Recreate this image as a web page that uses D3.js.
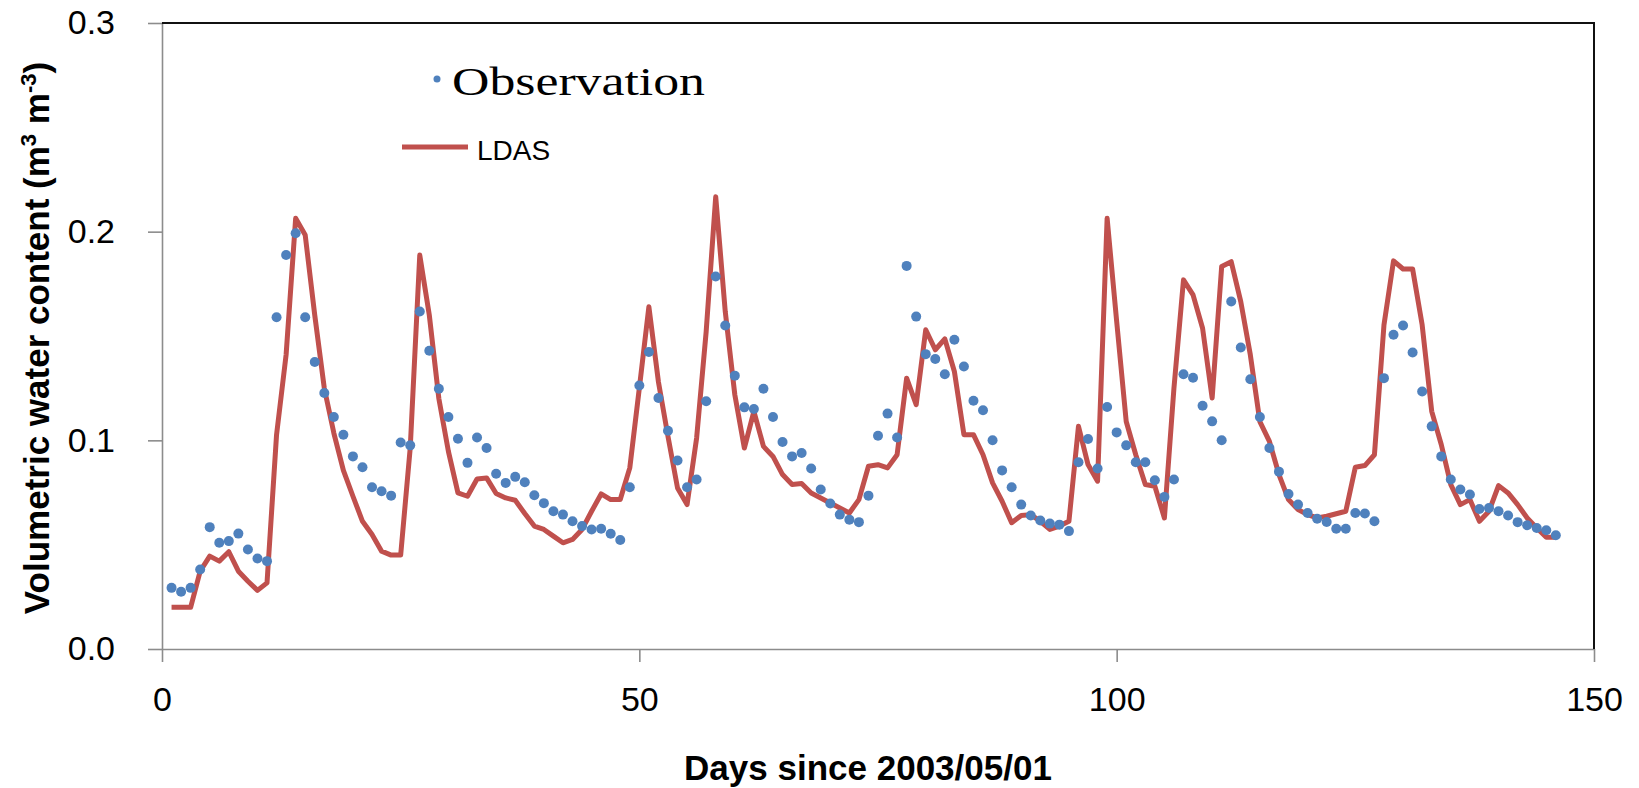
<!DOCTYPE html>
<html>
<head>
<meta charset="utf-8">
<script src="https://cdn.jsdelivr.net/npm/d3@7"></script>
<style>
body{margin:0;background:#fff;}
</style>
</head>
<body>
<div id="Canvas"></div>
<script>
//資料 (day 1 ~ 146)
let obsValues = [
    0.0293,0.0274,0.0293,0.0381,0.0584,0.0509,0.0517,0.0553,0.0477,0.0434,
    0.0421,0.159,0.1888,0.1992,0.159,0.1375,0.1227,0.1112,0.1027,0.0923,
    0.0871,0.0775,0.0756,0.0735,0.099,0.0976,0.1617,0.1429,0.1247,0.1112,
    0.1008,0.0892,0.1014,0.0963,0.084,0.0796,0.0825,0.0799,0.0737,0.0699,
    0.066,0.0644,0.0612,0.0589,0.0573,0.0576,0.0552,0.0522,0.0775,0.1263,
    0.1423,0.1203,0.1046,0.0903,0.0775,0.0812,0.1187,0.1785,0.155,0.131,
    0.1158,0.115,0.1247,0.1112,0.0992,0.0923,0.0939,0.0865,0.0764,0.0697,
    0.0644,0.062,0.0608,0.0735,0.1022,0.1128,0.1014,0.1836,0.1593,0.1413,
    0.139,0.1317,0.1482,0.1354,0.119,0.1144,0.100,0.0856,0.0775,0.0692,
    0.064,0.0616,0.0601,0.0596,0.0565,0.0895,0.1006,0.0865,0.116,0.1038,
    0.0976,0.0895,0.0895,0.0809,0.0729,0.0812,0.1317,0.130,0.1166,0.1091,
    0.100,0.1665,0.1445,0.1293,0.1112,0.0963,0.085,0.0743,0.0692,0.0652,
    0.0624,0.0609,0.0576,0.0576,0.0652,0.0649,0.0612,0.1298,0.1506,0.155,
    0.1421,0.1234,0.1067,0.0923,0.0812,0.0764,0.074,0.0671,0.0676,0.066,
    0.064,0.0608,0.0593,0.058,0.0569,0.0545
]
let ldasValues = [
    0.020,0.020,0.020,0.0373,0.0445,0.0421,0.0466,0.0373,0.0325,0.0281,
    0.0317,0.1027,0.141,0.2064,0.1984,0.160,0.125,0.1035,0.0856,0.0732,
    0.0612,0.0549,0.0469,0.045,0.045,0.0963,0.1888,0.160,0.120,0.0947,
    0.0748,0.0732,0.0815,0.082,0.0745,0.0724,0.0713,0.0649,0.0589,0.0573,
    0.0541,0.0509,0.0525,0.0573,0.066,0.0743,0.0716,0.0716,0.0868,0.125,
    0.164,0.128,0.1019,0.0772,0.0692,0.1011,0.152,0.2167,0.1617,0.1219,
    0.0963,0.1139,0.0971,0.0923,0.0836,0.0788,0.0793,0.0748,0.0724,0.070,
    0.0676,0.0652,0.0716,0.0876,0.0883,0.0868,0.0931,0.1298,0.1171,0.153,
    0.1434,0.1486,0.133,0.1027,0.1027,0.0931,0.0796,0.0708,0.0605,0.064,
    0.0644,0.0612,0.0573,0.0589,0.0612,0.1067,0.0884,0.0804,0.2064,0.157,
    0.109,0.0931,0.0788,0.078,0.0628,0.125,0.1769,0.1697,0.1537,0.1203,
    0.1833,0.1856,0.1665,0.141,0.109,0.0995,0.0836,0.0716,0.0668,0.0644,
    0.0628,0.0636,0.0648,0.066,0.0871,0.0879,0.0931,0.1553,0.186,0.1821,
    0.1821,0.1553,0.1139,0.098,0.0788,0.0692,0.0716,0.0612,0.066,0.0783,
    0.0748,0.0692,0.0628,0.058,0.0536,0.0536
]
let days = d3.range(1, obsValues.length + 1)
let xTicks = [0, 50, 100, 150]
let yTicks = [0, 0.1, 0.2, 0.3]

let blue = "#4F81BD"
let red = "#C0504D"
let axisGrey = "#8c8c8c"
let sansFont = "'Liberation Sans', Arial, sans-serif"

let svg = d3.select("#Canvas")
    .append("svg")
    .attr("width", 1639)
    .attr("height", 788)

let xScale = d3.scaleLinear()
    .domain([0, 150])
    .range([162, 1594])
let yScale = d3.scaleLinear()
    .domain([0, 0.3])
    .range([649, 23])

//坐標軸
let xAxis = d3.axisBottom(xScale)
    .tickValues(xTicks)
    .tickSize(13)
    .tickSizeOuter(0)
    .tickPadding(25)
let yAxis = d3.axisLeft(yScale)
    .tickValues(yTicks)
    .tickFormat(d3.format(".1f"))
    .tickSize(14)
    .tickSizeOuter(0)
    .tickPadding(33)

let gx = svg.append("g")
    .attr("transform", "translate(0,649)")
    .call(xAxis)
let gy = svg.append("g")
    .attr("transform", "translate(162,0)")
    .call(yAxis)
;[gx, gy].forEach(g => {
    g.attr("font-family", sansFont).attr("font-size", 34)
    g.selectAll(".domain").attr("stroke", axisGrey).attr("stroke-width", 1.6)
    g.selectAll(".tick line").attr("stroke", axisGrey).attr("stroke-width", 1.6)
    g.selectAll(".tick text").attr("fill", "#000")
})

//plot area 外框 (上、右)
svg.append("path")
    .attr("d", `M${xScale(0)},${yScale(0.3)}H${xScale(150)}V${yScale(0)}`)
    .attr("fill", "none")
    .attr("stroke", "#111")
    .attr("stroke-width", 2)

//LDAS 折線
let line = d3.line()
    .x((d, i) => xScale(days[i]))
    .y(d => yScale(d))
svg.append("path")
    .datum(ldasValues)
    .attr("d", line)
    .attr("fill", "none")
    .attr("stroke", red)
    .attr("stroke-width", 5)
    .attr("stroke-linejoin", "round")

//Observation 點
svg.selectAll("circle.obs")
    .data(obsValues)
    .enter()
    .append("circle")
    .attr("class", "obs")
    .attr("cx", (d, i) => xScale(days[i]))
    .attr("cy", d => yScale(d))
    .attr("r", 5)
    .attr("fill", blue)

//坐標軸標題
svg.append("text")
    .attr("x", 868)
    .attr("y", 780)
    .attr("text-anchor", "middle")
    .attr("font-family", sansFont)
    .attr("font-weight", "bold")
    .attr("font-size", 35)
    .text("Days since 2003/05/01")

let yTitle = svg.append("text")
    .attr("transform", "translate(49,338) rotate(-90)")
    .attr("text-anchor", "middle")
    .attr("font-family", sansFont)
    .attr("font-weight", "bold")
    .attr("font-size", 35)
yTitle.append("tspan").text("Volumetric water content (m")
yTitle.append("tspan").attr("font-size", 22).attr("dy", -13).text("3")
yTitle.append("tspan").attr("dy", 13).text(" m")
yTitle.append("tspan").attr("font-size", 22).attr("dy", -13).text("-3")
yTitle.append("tspan").attr("dy", 13).text(")")

//圖例
svg.append("circle")
    .attr("cx", 437)
    .attr("cy", 79)
    .attr("r", 3.5)
    .attr("fill", blue)
svg.append("text")
    .attr("x", 452)
    .attr("y", 95)
    .attr("font-family", "'Liberation Serif', 'Times New Roman', serif")
    .attr("font-size", 41)
    .attr("textLength", 253)
    .attr("lengthAdjust", "spacingAndGlyphs")
    .text("Observation")
svg.append("line")
    .attr("x1", 402)
    .attr("x2", 468)
    .attr("y1", 147)
    .attr("y2", 147)
    .attr("stroke", red)
    .attr("stroke-width", 5)
svg.append("text")
    .attr("x", 477)
    .attr("y", 160)
    .attr("font-family", sansFont)
    .attr("font-size", 28)
    .text("LDAS")
</script>
</body>
</html>
